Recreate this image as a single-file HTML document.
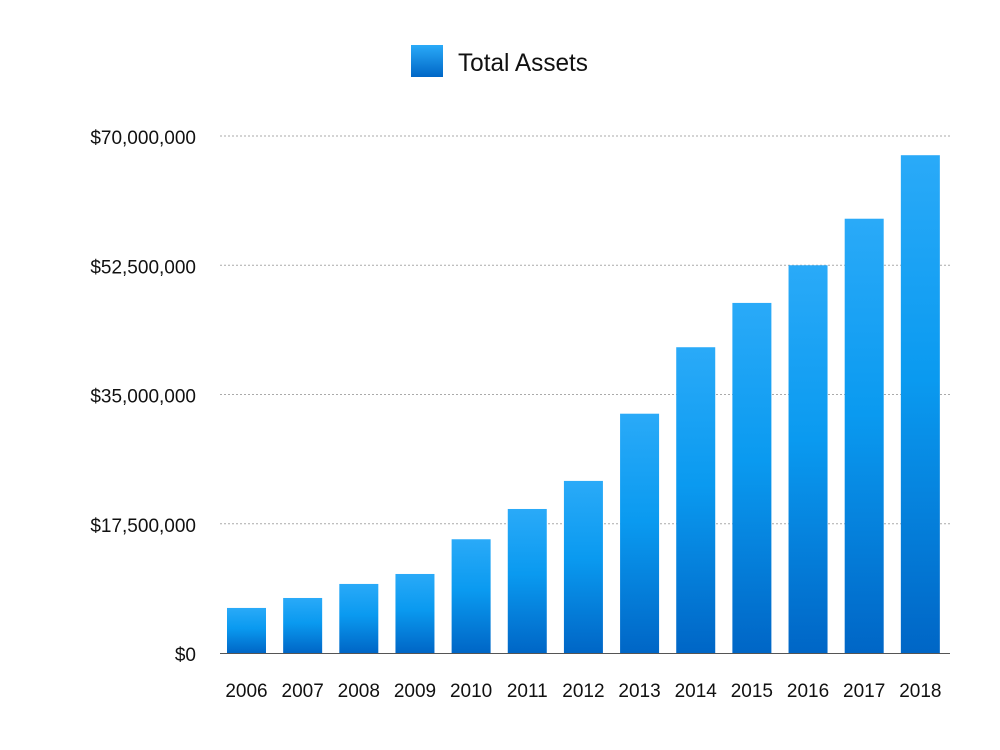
<!DOCTYPE html>
<html><head><meta charset="utf-8"><style>
body{margin:0;background:#fff}
svg{display:block;font-family:"Liberation Sans",sans-serif}
</style></head><body>
<svg id="chart" width="1000" height="750" viewBox="0 0 1000 750">
<defs><linearGradient id="g" x1="0" y1="0" x2="0" y2="1">
<stop offset="0" stop-color="#2aaaf8"/><stop offset="0.45" stop-color="#0a9af0"/><stop offset="1" stop-color="#0066c6"/></linearGradient>
<linearGradient id="lg" x1="0" y1="0" x2="0" y2="1">
<stop offset="0" stop-color="#2aaaf8"/><stop offset="1" stop-color="#0066c6"/></linearGradient></defs>
<g>
<rect x="411" y="45" width="32" height="32" fill="url(#lg)"/>
<text x="458" y="71" font-size="25" fill="#111" textLength="130" lengthAdjust="spacingAndGlyphs">Total Assets</text>
</g>
<g id="grid"></g><g id="bars"></g><g id="xlabels"></g>
</svg>
<script>
const categories=["2006","2007","2008","2009","2010","2011","2012","2013","2014","2015","2016","2017","2018"];
const values=[6.1,7.45,9.35,10.7,15.4,19.5,23.3,32.4,41.4,47.4,52.5,58.8,67.4];
const tickValues=[0,17.5,35,52.5,70];
const tickLabels=["$0","$17,500,000","$35,000,000","$52,500,000","$70,000,000"];
const NS="http://www.w3.org/2000/svg";
const x0=220,x1=950,y0=653,y1=136,maxV=70;
const y=v=>y0-(v/maxV)*(y0-y1);
const band=(x1-x0)/categories.length;
const xb=i=>x0+i*band;
function mk(t,a,p){const e=document.createElementNS(NS,t);for(const k in a)e.setAttribute(k,a[k]);p.appendChild(e);return e;}
const grid=document.getElementById('grid');
tickValues.forEach((v,i)=>{
  if(v>0){const l=mk('line',{x1:x0,x2:x1,y1:y(v),y2:y(v),stroke:'#aaa','stroke-dasharray':'2,2','stroke-width':1},grid);
  
  }
  const t=mk('text',{x:196,y:y(v)+8,'text-anchor':'end','font-size':19,fill:'#111'},grid);
  
  
  t.textContent=tickLabels[i];
});
const ax=mk('line',{x1:x0,x2:x1,y1:y0+0.5,y2:y0+0.5,stroke:'#555','stroke-width':1},grid);


const bars=document.getElementById('bars'),xl=document.getElementById('xlabels');
values.forEach((v,i)=>{
  const r=mk('rect',{x:xb(i)+7,y:y(v),width:39,height:y0-y(v),fill:'url(#g)'},bars);
  
  
  const t=mk('text',{x:xb(i)+26.5,y:697,'text-anchor':'middle','font-size':19,fill:'#111'},xl);
  
  
  t.textContent=categories[i];
});
</script>
</body></html>
